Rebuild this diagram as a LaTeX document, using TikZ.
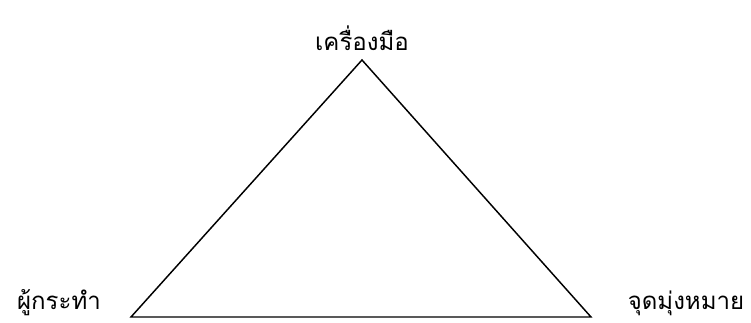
\documentclass[tikz,border=0pt]{standalone}
\usepackage{fontspec}
\newfontfamily\thaifont[Script=Thai]{Loma}
\begin{document}
\begin{tikzpicture}[x=0.75pt,y=-0.75pt,
  lbl/.style={font=\thaifont\fontsize{18}{21}\selectfont, inner sep=0pt},
  side/.style={draw=black, line width=1.1pt}]
\useasboundingbox (0,0) rectangle (751,322);
\coordinate (A) at (362,60);
\coordinate (B) at (131,317);
\coordinate (C) at (591,317);
\draw[side, line join=miter] (A) -- (B) -- (C) -- cycle;
\node[lbl] (top) at (362,38) {เครื่องมือ};
\node[lbl] (left) at (59,303) {ผู้กระทำ};
\node[lbl] (right) at (686,303) {จุดมุ่งหมาย};
\end{tikzpicture}
\end{document}
